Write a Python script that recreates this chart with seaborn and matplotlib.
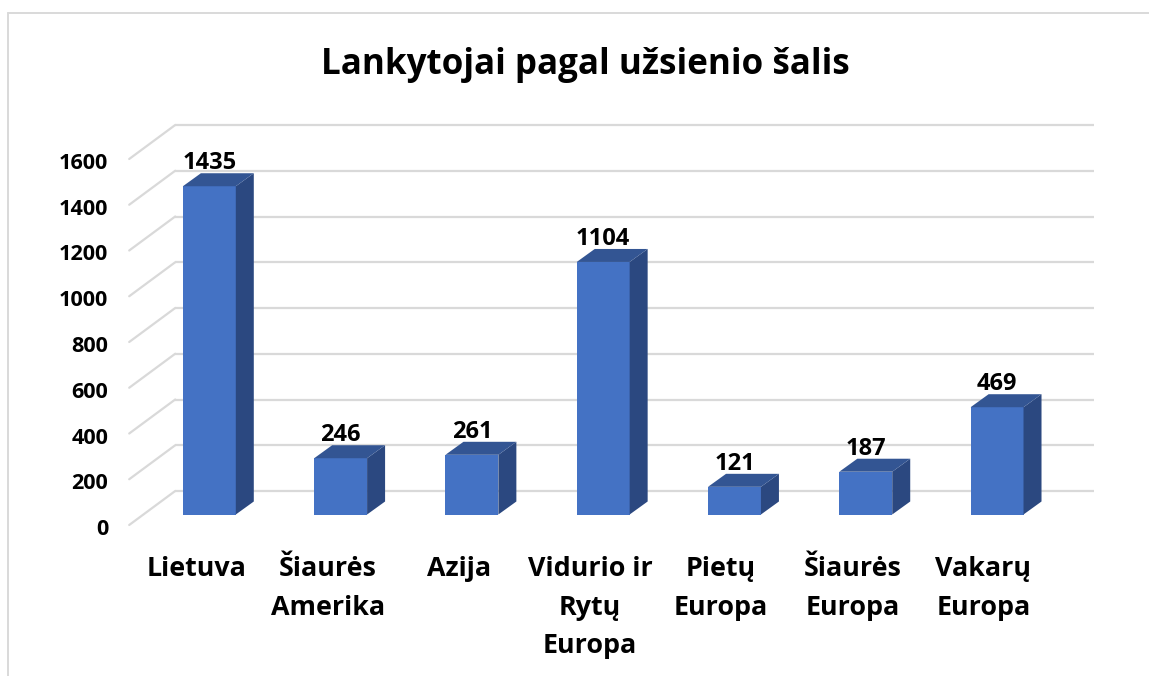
import matplotlib
matplotlib.use("Agg")
import matplotlib.pyplot as plt
import pandas as pd
import seaborn as sns
from matplotlib.lines import Line2D
from matplotlib.patches import Polygon
from matplotlib.transforms import Affine2D, IdentityTransform

regions = ["Lietuva", "Šiaurės\nAmerika", "Azija", "Vidurio ir\nRytų\nEuropa",
           "Pietų\nEuropa", "Šiaurės\nEuropa", "Vakarų\nEuropa"]
visitors = [1435, 246, 261, 1104, 121, 187, 469]
y_ticks = [0, 200, 400, 600, 800, 1000, 1200, 1400, 1600]

W, H = 1149, 676
GRID = "#D9D9D9"

sns.set_theme(style="white")
plt.rcParams["font.family"] = ["Open Sans", "DejaVu Sans"]
plt.rcParams["font.weight"] = "bold"


def rect(left, right, bottom, top):
    # pixel box (y from the top of the image) to figure fractions
    return [left / W, 1 - bottom / H, (right - left) / W, (bottom - top) / H]


fig = plt.figure(figsize=(W / 100, H / 100), dpi=100, facecolor="white")

# bars sit on the middle plane, grid on the back wall, labels on the front edge
ax = fig.add_axes(rect(143.7, 1062.7, 514.5, 148.5))
df = pd.DataFrame({"region": regions, "visitors": visitors})
sns.barplot(data=df, x="region", y="visitors", color="#4472C4", saturation=1,
            width=0.403, zorder=3, edgecolor="none", linewidth=0, ax=ax)
ax.set_xlim(-0.5, 6.5)
ax.set_ylim(0, 1600)
ax.set_xlabel("")
ax.set_ylabel("")
ax.set_xticks([])
ax.set_yticks([])
ax.patch.set_alpha(0)
sns.despine(ax=ax, left=True, bottom=True)

back = ax.transData + Affine2D().translate(31.5, 23.5)
front = ax.transData + Affine2D().translate(-14.5, -10.5)
ax.hlines(y_ticks, -0.5, 6.5, color=GRID, lw=1.6, transform=back, zorder=1, clip_on=False)
fig.canvas.draw()
for t in y_ticks:
    p0 = front.transform((-0.5, t))
    p1 = back.transform((-0.5, t))
    ax.add_line(Line2D([p0[0], p1[0]], [p0[1], p1[1]], color=GRID, lw=1.6,
                       transform=IdentityTransform(), zorder=1, clip_on=False))

# 3D sides of each bar
dx, dy = 18, 13
for bar in ax.patches:
    x0, y0 = ax.transData.transform((bar.get_x(), 0))
    x1, y1 = ax.transData.transform((bar.get_x() + bar.get_width(), bar.get_height()))
    side = [(x1, y0), (x1 + dx, y0 + dy), (x1 + dx, y1 + dy), (x1, y1)]
    top = [(x0, y1), (x1, y1), (x1 + dx, y1 + dy), (x0 + dx, y1 + dy)]
    ax.add_patch(Polygon(side, fc="#2B4880", ec="none", transform=IdentityTransform(),
                         zorder=3, clip_on=False))
    ax.add_patch(Polygon(top, fc="#335593", ec="none", transform=IdentityTransform(),
                         zorder=3, clip_on=False))

ax.bar_label(ax.containers[0], fontsize=17, fontweight="bold", color="black",
             padding=8, zorder=5)

# front edge axis, only carries the tick labels
lab = fig.add_axes(rect(131, 1049, 527, 161), facecolor="none")
lab.set_xlim(-0.5, 6.5)
lab.set_ylim(0, 1600)
lab.set_xticks(range(len(regions)), regions)
lab.set_yticks(y_ticks)
lab.tick_params(axis="x", length=0, pad=21, labelsize=19.4, labelcolor="black")
lab.tick_params(axis="y", length=0, pad=16.5, labelsize=15.6, labelcolor="black")
for t in lab.get_xticklabels():
    t.set_fontweight("bold")
    t.set_linespacing(1.62)
for t in lab.get_yticklabels():
    t.set_fontweight("bold")
sns.despine(ax=lab, left=True, bottom=True)

fig.text(585 / W, 1 - 65 / H, "Lankytojai pagal užsienio šalis", ha="center", va="center",
         fontsize=25.2, fontweight="bold", color="black")

# chart frame, cropped at the right and bottom of the image
fig.add_artist(Line2D([8 / W, 8 / W], [0, 1 - 13 / H], color=GRID, lw=1.4))
fig.add_artist(Line2D([8 / W, 1], [1 - 13 / H, 1 - 13 / H], color=GRID, lw=1.4))

fig.savefig("out.png", dpi=100)
